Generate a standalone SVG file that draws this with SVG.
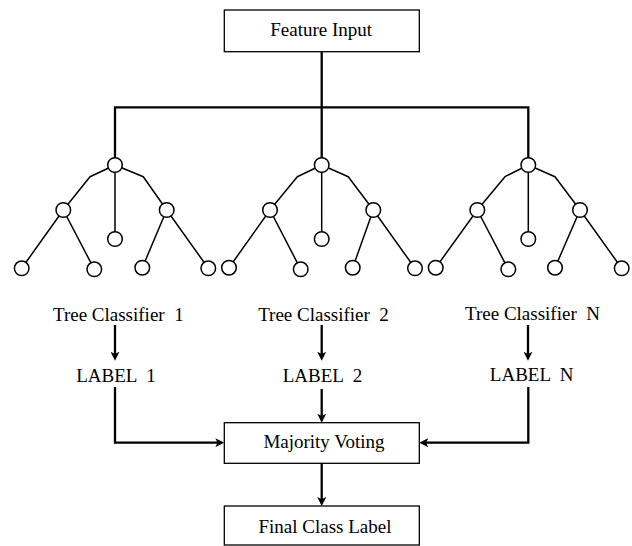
<svg xmlns="http://www.w3.org/2000/svg" width="632" height="546" viewBox="0 0 632 546">
<style>
  text { font-family: "Liberation Serif", "Times New Roman", serif; font-size: 19px; fill: #000; text-anchor: middle; }
  .box { fill: #fff; stroke: #000; stroke-width: 1.3; }
  .conn { fill: none; stroke: #000; stroke-width: 2.3; stroke-linejoin: miter; }
  .edge { fill: none; stroke: #000; stroke-width: 1.5; stroke-linejoin: round; }
  .nd { fill: #fff; stroke: #000; stroke-width: 1.5; }
</style>
<defs>
  <marker id="arr" viewBox="0 0 10 10" markerWidth="9" markerHeight="9" refX="5" refY="5" orient="auto" markerUnits="userSpaceOnUse">
    <path d="M0,0 L10,5 L0,10 L2.5,5 z" fill="#000"/>
  </marker>
</defs>
<rect width="632" height="546" fill="#fff"/>

<g id="connectors">
  <path class="conn" d="M321.7,52 V107.3 M115,107.3 H528.3 M115,106.2 V158 M321.7,107.3 V158 M528.3,106.2 V158"/>
  <path class="conn" d="M115,325 V356.2" marker-end="url(#arr)"/>
  <path class="conn" d="M321.7,325 V356.2" marker-end="url(#arr)"/>
  <path class="conn" d="M528,325 V356.2" marker-end="url(#arr)"/>
  <path class="conn" d="M115,387 V442.7 H219.8" marker-end="url(#arr)"/>
  <path class="conn" d="M321.7,389 V418.2" marker-end="url(#arr)"/>
  <path class="conn" d="M528.3,387 V442.7 H423.8" marker-end="url(#arr)"/>
  <path class="conn" d="M321.7,463.3 V501.5" marker-end="url(#arr)"/>
</g>

<g id="feature-input">
  <rect class="box" x="224.3" y="10" width="195" height="41.7"/>
  <text x="321.2" y="36">Feature Input</text>
</g>

<g id="tree-1">
  <path class="edge" d="M115,165 L90,176.7 L63.3,210 M115,165 L143.3,176.7 L166.7,210 M115,165 V239 M63.3,210 L21.7,268.3 M63.3,210 L94.3,269.3 M166.7,210 L142.3,267.7 M166.7,210 L208.3,268.3"/>
  <circle class="nd" cx="115" cy="165" r="7.3"/>
  <circle class="nd" cx="63.3" cy="210" r="7.3"/>
  <circle class="nd" cx="166.7" cy="210" r="7.3"/>
  <circle class="nd" cx="115" cy="239" r="7.3"/>
  <circle class="nd" cx="21.7" cy="268.3" r="7.3"/>
  <circle class="nd" cx="94.3" cy="269.3" r="7.3"/>
  <circle class="nd" cx="142.3" cy="267.7" r="7.3"/>
  <circle class="nd" cx="208.3" cy="268.3" r="7.3"/>
</g>

<g id="tree-2">
  <path class="edge" d="M321.7,165 L297.3,176.7 L270,210 M321.7,165 L348.3,176.7 L373.3,210 M321.7,165 V239 M270,210 L229,267.7 M270,210 L300.7,269.3 M373.3,210 L352.7,267.7 M373.3,210 L415,268.3"/>
  <circle class="nd" cx="321.7" cy="165" r="7.3"/>
  <circle class="nd" cx="270" cy="210" r="7.3"/>
  <circle class="nd" cx="373.3" cy="210" r="7.3"/>
  <circle class="nd" cx="321.7" cy="239" r="7.3"/>
  <circle class="nd" cx="229" cy="267.7" r="7.3"/>
  <circle class="nd" cx="300.7" cy="269.3" r="7.3"/>
  <circle class="nd" cx="352.7" cy="267.7" r="7.3"/>
  <circle class="nd" cx="415" cy="268.3" r="7.3"/>
</g>

<g id="tree-3">
  <path class="edge" d="M528.3,165 L505,176.7 L477.3,210 M528.3,165 L555,176.7 L580,210 M528.3,165 V239 M477.3,210 L435.7,267.7 M477.3,210 L508.3,269.3 M580,210 L555,267.7 M580,210 L621.7,268.3"/>
  <circle class="nd" cx="528.3" cy="165" r="7.3"/>
  <circle class="nd" cx="477.3" cy="210" r="7.3"/>
  <circle class="nd" cx="580" cy="210" r="7.3"/>
  <circle class="nd" cx="528.3" cy="239" r="7.3"/>
  <circle class="nd" cx="435.7" cy="267.7" r="7.3"/>
  <circle class="nd" cx="508.3" cy="269.3" r="7.3"/>
  <circle class="nd" cx="555" cy="267.7" r="7.3"/>
  <circle class="nd" cx="621.7" cy="268.3" r="7.3"/>
</g>

<g id="tree-classifier-1"><text x="118.3" y="320.7" xml:space="preserve">Tree Classifier  1</text></g>
<g id="tree-classifier-2"><text x="323.5" y="320.5" xml:space="preserve">Tree Classifier  2</text></g>
<g id="tree-classifier-n"><text x="532.5" y="320" xml:space="preserve">Tree Classifier  N</text></g>

<g id="label-1"><text x="116" y="382.3" xml:space="preserve">LABEL  1</text></g>
<g id="label-2"><text x="322.5" y="382.3" xml:space="preserve">LABEL  2</text></g>
<g id="label-n"><text x="531.7" y="381" xml:space="preserve">LABEL  N</text></g>

<g id="majority-voting">
  <rect class="box" x="224.3" y="422.7" width="195" height="40.6"/>
  <text x="324" y="448.3">Majority Voting</text>
</g>

<g id="final-class-label">
  <rect class="box" x="224.3" y="506" width="195" height="39"/>
  <text x="325" y="533">Final Class Label</text>
</g>
</svg>
